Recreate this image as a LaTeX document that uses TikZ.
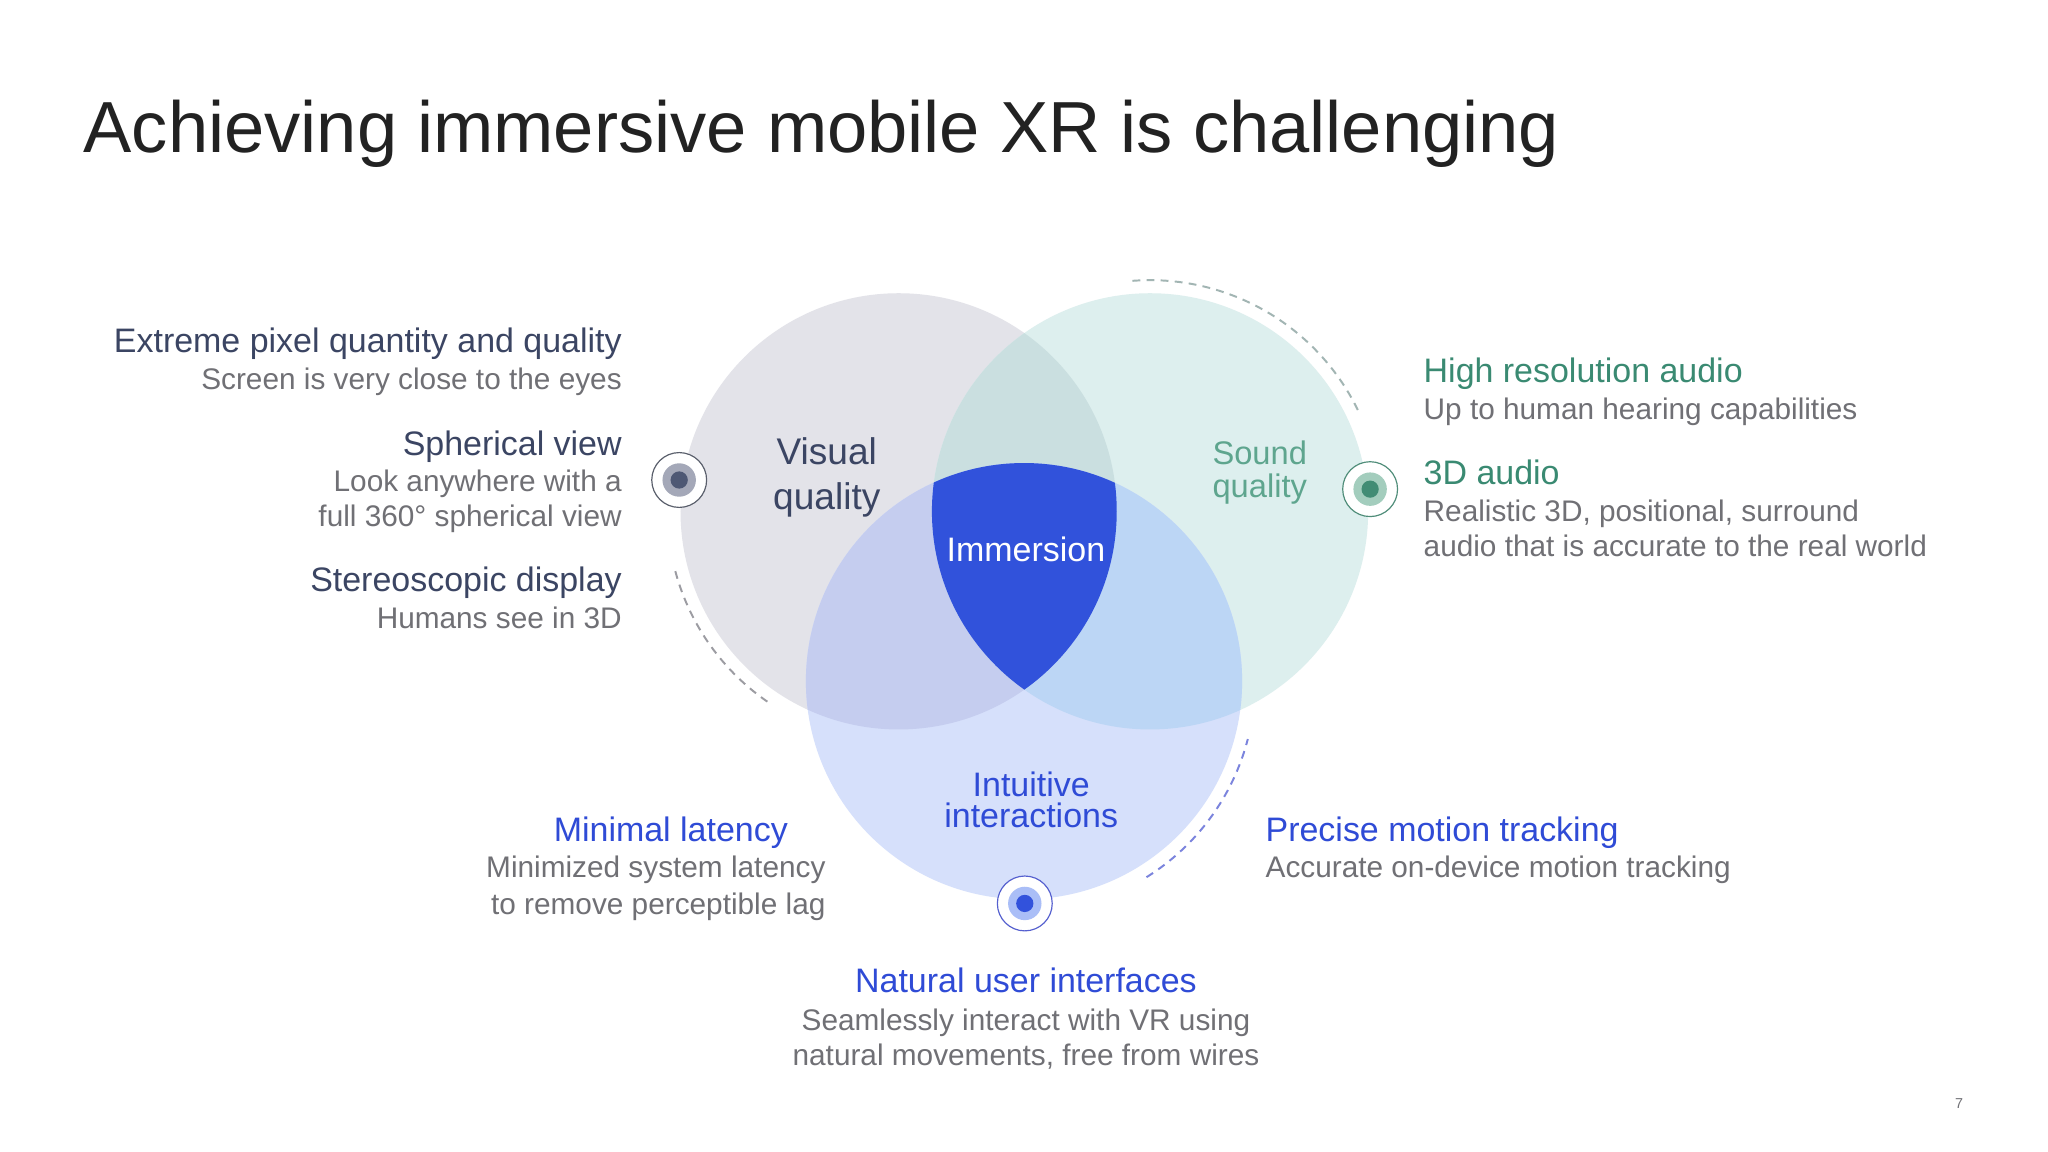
\documentclass[tikz,border=0pt]{standalone}
\usepackage{fontspec}
\setmainfont{Liberation Sans}
\definecolor{cTitle}{HTML}{222222}
\definecolor{cHead}{HTML}{3B4563}
\definecolor{cSub}{HTML}{707075}
\definecolor{cGreen}{HTML}{3A8A72}
\definecolor{cGreenL}{HTML}{5EA58E}
\definecolor{cBlue}{HTML}{2F4BD6}
\definecolor{cV}{HTML}{E3E3E9}
\definecolor{cS}{HTML}{DDEFEE}
\definecolor{cI}{HTML}{D6E0FB}
\definecolor{cVS}{HTML}{CADFE0}
\definecolor{cVI}{HTML}{C5CDEF}
\definecolor{cSI}{HTML}{BCD6F5}
\definecolor{cImm}{HTML}{3152DB}
\definecolor{dV}{HTML}{9C9CA2}
\definecolor{dS}{HTML}{A2B5B3}
\definecolor{dI}{HTML}{7B84DD}
\definecolor{rV}{HTML}{595E6B}
\definecolor{mV}{HTML}{A4A8B8}
\definecolor{iV}{HTML}{4E5874}
\definecolor{rS}{HTML}{4F8D79}
\definecolor{mS}{HTML}{A3CDBD}
\definecolor{iS}{HTML}{418C74}
\definecolor{rI}{HTML}{5560CF}
\definecolor{mI}{HTML}{AABEF7}
\definecolor{iI}{HTML}{3252DC}
\begin{document}
\begin{tikzpicture}[x=0.5pt,y=-0.5pt,
  txt/.style={inner sep=0pt, outer sep=0pt},
  hd/.style={txt, font=\fontsize{13}{15}\selectfont, text=cHead},
  sb/.style={txt, font=\fontsize{11.4}{13.5}\selectfont, text=cSub},
  dasharc/.style={line width=0.75pt, dash pattern=on 3pt off 2.4pt},
  ring/.style={circle, fill=white, line width=0.45pt, minimum size=21pt, inner sep=0pt},
  mid/.style={circle, minimum size=12.8pt, inner sep=0pt},
  dot/.style={circle, minimum size=6.6pt, inner sep=0pt}]
\useasboundingbox (0,0) rectangle (1568,882);
\fill[white] (0,0) rectangle (1568,882);

% title
\node[txt, anchor=base west, text=cTitle, font=\fontsize{27.7}{32}\selectfont] (title) at (64,116.6) {Achieving immersive mobile XR is challenging};

% circles
\coordinate (V) at (688,391.5);
\coordinate (S) at (880.5,391.5);
\coordinate (I) at (784,521.5);
\fill[cV] (V) circle[radius=83.5pt];
\fill[cS] (S) circle[radius=83.5pt];
\fill[cI] (I) circle[radius=83.5pt];
\begin{scope}
  \clip (V) circle[radius=83.5pt];
  \fill[cVS] (S) circle[radius=83.5pt];
\end{scope}
\begin{scope}
  \clip (V) circle[radius=83.5pt];
  \fill[cVI] (I) circle[radius=83.5pt];
\end{scope}
\begin{scope}
  \clip (S) circle[radius=83.5pt];
  \fill[cSI] (I) circle[radius=83.5pt];
\end{scope}
\begin{scope}
  \clip (V) circle[radius=83.5pt];
  \clip (S) circle[radius=83.5pt];
  \fill[cImm] (I) circle[radius=83.5pt];
\end{scope}

% dashed arcs
\draw[dasharc, draw=dV] (V) ++(195:88.5pt) arc[start angle=195, end angle=236, radius=88.5pt];
\draw[dasharc, draw=dS] (S) ++(26:88.5pt) arc[start angle=26, end angle=95, radius=88.5pt];
\draw[dasharc, draw=dI] (I) ++(-58:88.5pt) arc[start angle=-58, end angle=-14.5, radius=88.5pt];

% badges
\node[ring, draw=rV] (bV) at (520,367.5) {};
\node[mid, fill=mV] (bVm) at (bV.center) {};
\node[dot, fill=iV] (bVi) at (bV.center) {};
\node[ring, draw=rS] (bS) at (1049,374.5) {};
\node[mid, fill=mS] (bSm) at (bS.center) {};
\node[dot, fill=iS] (bSi) at (bS.center) {};
\node[ring, draw=rI] (bI) at (784.6,691.7) {};
\node[mid, fill=mI] (bIm) at (bI.center) {};
\node[dot, fill=iI] (bIi) at (bI.center) {};

% circle labels
\node[txt, anchor=base, text=cHead, font=\fontsize{14.2}{16}\selectfont] (vis1) at (633,356) {Visual};
\node[txt, anchor=base, text=cHead, font=\fontsize{14.2}{16}\selectfont] (vis2) at (633,390) {quality};
\node[txt, anchor=base, text=cGreenL, font=\fontsize{12.5}{14}\selectfont] (snd1) at (964.5,355.3) {Sound};
\node[txt, anchor=base, text=cGreenL, font=\fontsize{12.5}{14}\selectfont] (snd2) at (964.5,380.8) {quality};
\node[txt, anchor=base, text=white, font=\fontsize{13}{15}\selectfont] (imm) at (785.5,430) {Immersion};
\node[txt, anchor=base, text=cBlue, font=\fontsize{13}{15}\selectfont] (int1) at (789.5,610) {Intuitive};
\node[txt, anchor=base, text=cBlue, font=\fontsize{13}{15}\selectfont] (int2) at (789.5,633.5) {interactions};

% left column
\node[hd, anchor=base east] (lh1) at (476,270) {Extreme pixel quantity and quality};
\node[sb, anchor=base east] (ls1) at (476,298) {Screen is very close to the eyes};
\node[hd, anchor=base east] (lh2) at (476,348.5) {Spherical view};
\node[sb, anchor=base east] (ls2a) at (476,376.5) {Look anywhere with a};
\node[sb, anchor=base east] (ls2b) at (476,403.3) {full 360° spherical view};
\node[hd, anchor=base east] (lh3) at (476,453) {Stereoscopic display};
\node[sb, anchor=base east] (ls3) at (476,481) {Humans see in 3D};

% right column
\node[hd, anchor=base west, text=cGreen] (rh1) at (1090,293) {High resolution audio};
\node[sb, anchor=base west] (rs1) at (1090,321) {Up to human hearing capabilities};
\node[hd, anchor=base west, text=cGreen] (rh2) at (1090,370.6) {3D audio};
\node[sb, anchor=base west] (rs2a) at (1090,399.4) {Realistic 3D, positional, surround};
\node[sb, anchor=base west] (rs2b) at (1090,426.2) {audio that is accurate to the real world};

% bottom left
\node[hd, anchor=base west, text=cBlue] (bh1) at (424,644) {Minimal latency};
\node[sb, anchor=base east] (bs1a) at (632,672) {Minimized system latency};
\node[sb, anchor=base east] (bs1b) at (632,700) {to remove perceptible lag};

% bottom right
\node[hd, anchor=base west, text=cBlue] (bh2) at (969,644) {Precise motion tracking};
\node[sb, anchor=base west] (bs2) at (969,672) {Accurate on-device motion tracking};

% bottom centre
\node[hd, anchor=base, text=cBlue] (bh3) at (785.5,759.8) {Natural user interfaces};
\node[sb, anchor=base] (bs3a) at (785.5,788.7) {Seamlessly interact with VR using};
\node[sb, anchor=base] (bs3b) at (785.5,815.5) {natural movements, free from wires};

% page number
\node[txt, text=cSub, font=\fontsize{5.5}{6}\selectfont] (pg) at (1500,845) {7};
\end{tikzpicture}
\end{document}
